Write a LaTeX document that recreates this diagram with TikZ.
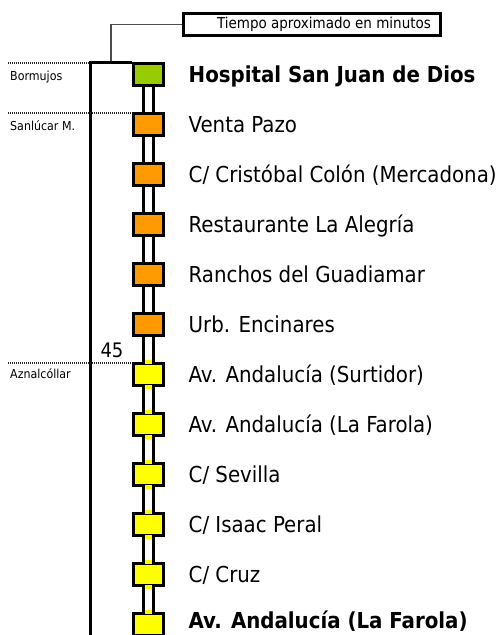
\documentclass[tikz,border=0pt]{standalone}
\usepackage{fontspec}
\setmainfont{DejaVu Sans Condensed}
\definecolor{cgreen}{HTML}{99CC00}
\definecolor{corange}{HTML}{FF9900}
\definecolor{cyellow}{HTML}{FFFF00}
\begin{document}
\begin{tikzpicture}[x=1pt,y=-1pt,
  stopbox/.style={draw=black, line width=3pt, minimum width=30pt, minimum height=22pt, inner sep=0pt},
  lab/.style={anchor=west, inner sep=0pt, font=\fontsize{22}{26}\selectfont, text height=16pt, text depth=0pt},
  blab/.style={lab, font=\fontsize{22}{26}\selectfont\bfseries},
  side/.style={anchor=west, inner sep=0pt, font=\fontsize{12.3}{14}\selectfont, text height=9pt, text depth=0pt},
  rail/.style={line width=3pt},
  dots/.style={line width=2pt, dash pattern=on 1pt off 1pt, black!85},
  conn/.style={line width=1.2pt, black!70},
  bracket/.style={line width=3pt},
  notch/.style={fill=cyellow}]
\useasboundingbox (0,0) rectangle (502,635);
% stops
\foreach \i in {0,...,11}{
  \pgfmathsetmacro{\cy}{74.5+50*\i}
  \ifnum\i=0 \def\col{cgreen}\else\ifnum\i<6 \def\col{corange}\else\def\col{cyellow}\fi\fi
  \node[stopbox, fill=\col] (s\i) at (148.5,\cy) {};
}
% rails
\foreach \i [evaluate=\i as \j using int(\i+1)] in {0,...,10}{
  \draw[rail] ([xshift=-5pt]s\i.south) -- ([xshift=-5pt]s\j.north);
  \draw[rail] ([xshift=5pt]s\i.south) -- ([xshift=5pt]s\j.north);
}
% yellow notches
\foreach \i in {6,...,11}{
  \fill[notch] ([xshift=-3.5pt,yshift=1.6pt]s\i.north) rectangle ([xshift=3.5pt,yshift=-1.6pt]s\i.north);
  \fill[notch] ([xshift=-3.5pt,yshift=1.6pt]s\i.south) rectangle ([xshift=3.5pt,yshift=-1.6pt]s\i.south);
}
% labels
\node[blab] (l0) at ([xshift=23.5pt]s0.east) {Hospital San Juan de Dios};
\node[lab] (l1) at ([xshift=23.5pt]s1.east) {Venta Pazo};
\node[lab] (l2) at ([xshift=23.5pt]s2.east) {C/ Cristóbal Colón (Mercadona)};
\node[lab] (l3) at ([xshift=23.5pt]s3.east) {Restaurante La Alegría};
\node[lab] (l4) at ([xshift=23.5pt]s4.east) {Ranchos del Guadiamar};
\node[lab] (l5) at ([xshift=23.5pt]s5.east) {Urb. Encinares};
\node[lab] (l6) at ([xshift=23.5pt]s6.east) {Av. Andalucía (Surtidor)};
\node[lab] (l7) at ([xshift=23.5pt]s7.east) {Av. Andalucía (La Farola)};
\node[lab] (l8) at ([xshift=23.5pt]s8.east) {C/ Sevilla};
\node[lab] (l9) at ([xshift=23.5pt]s9.east) {C/ Isaac Peral};
\node[lab] (l10) at ([xshift=23.5pt]s10.east) {C/ Cruz};
\node[blab] (l11) at ([xshift=23.5pt,yshift=4pt]s11.east) {Av. Andalucía (La Farola)};
% header box
\node[draw, line width=3pt, minimum width=257pt, minimum height=22pt, inner sep=0pt,
      font=\fontsize{15}{18}\selectfont] (box) at (312,24.5) {\hspace*{24pt}Tiempo aproximado en minutos};
\coordinate (bt) at (111,63);
\draw[conn] (bt) |- (box.west);
% bracket
\coordinate (bb) at (90.5,637);
\draw[bracket] (bb) |- (s0.north west);
% dotted town lines
\coordinate (d0a) at (8,62.5); \coordinate (d0b) at (89,62.5);
\coordinate (d1a) at (8,112.5); \coordinate (d1b) at (132,112.5);
\coordinate (d2a) at (8,362.5); \coordinate (d2b) at (132,362.5);
\draw[dots] (d0a) -- (d0b);
\draw[dots] (d1a) -- (d1b);
\draw[dots] (d2a) -- (d2b);
\node[side] (t0) at (10,76) {Bormujos};
\node[side] (t1) at (10,126) {Sanlúcar M.};
\node[side] (t2) at (10,374) {Aznalcóllar};
\node[inner sep=0pt, font=\fontsize{20}{24}\selectfont, text height=14.6pt, text depth=0pt] (n45) at (112,350.5) {45};
\end{tikzpicture}
\end{document}
